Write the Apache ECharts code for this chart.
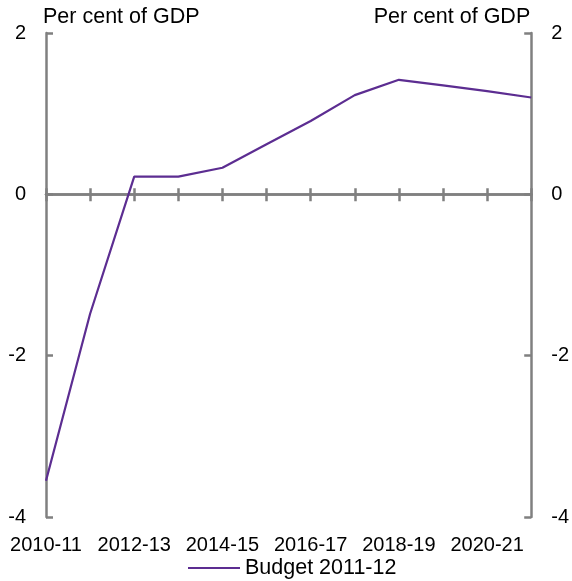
<!DOCTYPE html>
<html>
<head>
<meta charset="utf-8">
<script src="https://cdn.jsdelivr.net/npm/echarts@6/dist/echarts.min.js"></script>
<style>html,body{margin:0;padding:0;background:#fff;}#c{width:572px;height:581px;}</style>
</head>
<body>
<div id="c"></div>
<script>
var categories = ['2010-11','2011-12','2012-13','2013-14','2014-15','2015-16','2016-17','2017-18','2018-19','2019-20','2020-21','2021-22'];
var budget = [-3.55, -1.48, 0.22, 0.22, 0.33, 0.62, 0.91, 1.23, 1.42, 1.35, 1.28, 1.2];
var yTicks = { min: -4, max: 2, interval: 2 };
var seriesName = 'Budget 2011-12';
var axisTitle = 'Per cent of GDP';

var FONT = 'Liberation Sans, Arial, sans-serif';
var GREY = '#808080';
var PURPLE = '#5C2D91';
var chart = echarts.init(document.getElementById('c'));
function yAxis(pos) {
  return {
    type: 'value', position: pos, min: yTicks.min, max: yTicks.max, interval: yTicks.interval,
    name: axisTitle, nameLocation: 'end', nameGap: 5,
    nameTextStyle: { color: '#000', fontSize: 21.5, fontFamily: FONT, align: pos === 'left' ? 'left' : 'right', padding: pos === 'left' ? [0,0,0,-3] : [0,1,0,0] },
    axisLine: { show: true, lineStyle: { color: GREY, width: 2.5 } },
    axisTick: { show: true, inside: true, length: 7, lineStyle: { color: GREY, width: 2.5 } },
    axisLabel: { color: '#000', fontSize: 20, fontFamily: FONT, margin: 20 },
    splitLine: { show: false }
  };
}
chart.setOption({
  animation: false,
  grid: { left: 46, right: 38, top: 33, bottom: 64, containLabel: false },
  legend: {
    bottom: 2, left: 188, padding: 0, itemWidth: 52, itemHeight: 2, itemGap: 6,
    icon: 'rect',
    textStyle: { color: '#000', fontSize: 21.5, fontFamily: FONT },
    data: [seriesName]
  },
  xAxis: [
    { type: 'category', data: categories, boundaryGap: false, position: 'bottom',
      axisLine: { show: true, onZero: true, lineStyle: { color: GREY, width: 2.5 } },
      axisTick: { show: true, inside: false, length: 7, interval: 0, lineStyle: { color: GREY, width: 2.5 } },
      axisLabel: { show: false } },
    { type: 'category', data: categories, boundaryGap: false, position: 'bottom',
      axisLine: { show: true, onZero: true, lineStyle: { color: GREY, width: 2.5 } },
      axisTick: { show: true, inside: true, length: 6, interval: 0, lineStyle: { color: GREY, width: 2.5 } },
      axisLabel: { show: false } },
    { type: 'category', data: categories, boundaryGap: false, position: 'bottom',
      axisLine: { show: false, onZero: false },
      axisTick: { show: false },
      axisLabel: { show: true, interval: 1, color: '#000', fontSize: 20, fontFamily: FONT, margin: 18 } }
  ],
  yAxis: [yAxis('left'), yAxis('right')],
  series: [{
    name: seriesName, type: 'line', data: budget, xAxisIndex: 0, yAxisIndex: 0,
    symbol: 'none', lineStyle: { color: PURPLE, width: 2.2 }, itemStyle: { color: PURPLE }
  }]
});
</script>
</body>
</html>
